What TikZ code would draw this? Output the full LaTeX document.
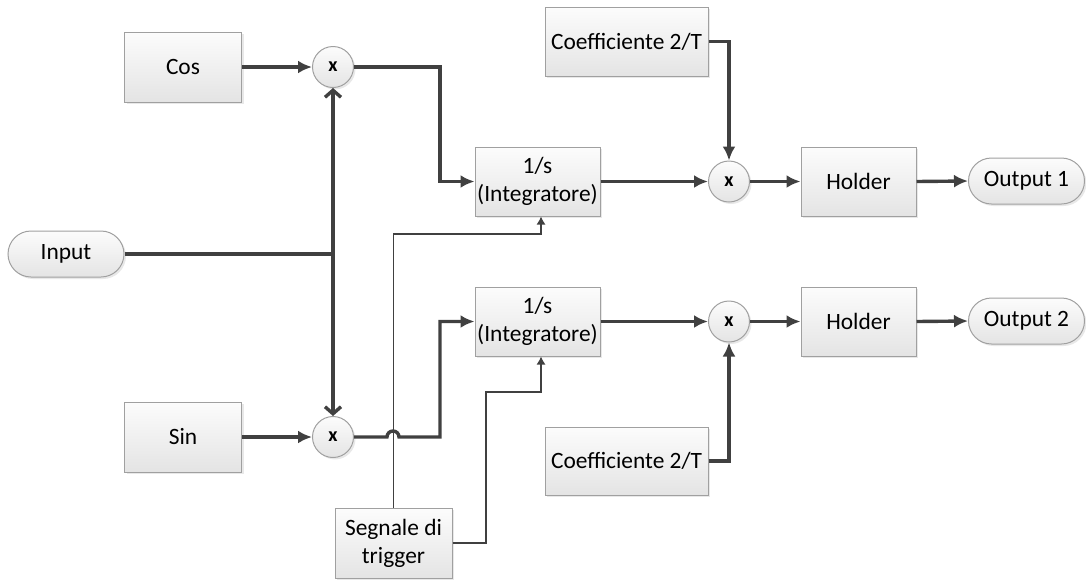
\documentclass[tikz,border=0pt]{standalone}
\usepackage{fontspec}
\setmainfont{Carlito}
\usetikzlibrary{arrows.meta,shadows}

\definecolor{wirec}{HTML}{404040}
\definecolor{boxline}{HTML}{A0A0A0}
\definecolor{boxtop}{HTML}{FCFCFC}
\definecolor{boxbot}{HTML}{E4E4E4}

\tikzset{
  shaded/.style={draw=boxline, line width=0.5pt, top color=boxtop, bottom color=boxbot,
    drop shadow={shadow xshift=1pt, shadow yshift=-1pt, opacity=0.18}},
  block/.style={shaded, rectangle, inner sep=0pt, align=center,
    font=\fontsize{11.7}{14}\selectfont},
  term/.style={block, rounded corners=11.5pt, minimum width=58pt, minimum height=23pt},
  mult/.style={shaded, circle, minimum size=20.5pt, inner sep=0pt,
    font=\fontsize{10}{12}\selectfont\bfseries},
  wire/.style={draw=wirec, line width=1.7pt, -{Latex[length=7pt,width=6.5pt]}},
  plainwire/.style={draw=wirec, line width=1.7pt},
  barbwire/.style={draw=wirec, line width=1.7pt, -{Straight Barb[length=3.5pt,width=8pt]}},
  trigwire/.style={draw=wirec, line width=0.6pt, -{Latex[length=4pt,width=4.5pt]}},
}

\begin{document}
\begin{tikzpicture}[x=0.5pt,y=-0.5pt]
\useasboundingbox (0,0) rectangle (1086,579);

% sources
\node[block, minimum width=58.5pt, minimum height=35pt] (cos) at (183,67) {Cos};
\node[block, minimum width=58.5pt, minimum height=35pt] (sin) at (183,437) {Sin};
\node[term] (input) at (66,254) {Input};

% mixers
\node[mult] (m1) at (333,67) {x};
\node[mult] (m2) at (333,437) {x};

% integrators
\node[block, minimum width=62.5pt, minimum height=34.5pt] (int1) at (537.5,181.5) {1/s\\(Integratore)};
\node[block, minimum width=62.5pt, minimum height=34.5pt] (int2) at (537.5,321.5) {1/s\\(Integratore)};

% trigger
\node[block, minimum width=58.5pt, minimum height=35pt] (trig) at (393.5,543) {Segnale di\\trigger};

% scaling
\node[block, minimum width=81.5pt, minimum height=34.5pt] (coef1) at (626.5,41.5) {Coefficiente 2/T};
\node[block, minimum width=81.5pt, minimum height=34pt] (coef2) at (626.5,461) {Coefficiente 2/T};
\node[mult] (m3) at (729,181.5) {x};
\node[mult] (m4) at (729,321.5) {x};

% hold and outputs
\node[block, minimum width=57.5pt, minimum height=34.5pt] (hold1) at (858.5,181.5) {Holder};
\node[block, minimum width=57.5pt, minimum height=34.5pt] (hold2) at (858.5,321.5) {Holder};
\node[term] (out1) at (1026.5,181) {Output 1};
\node[term] (out2) at (1026.5,321) {Output 2};

% input distribution
\coordinate (j) at (333,254);
\draw[plainwire] (input.east) -- (j);
\draw[barbwire] (j) -- (m1.south);
\draw[barbwire] (j) -- (m2.north);

\draw[wire] (cos.east) -- (m1.west);
\draw[wire] (sin.east) -- (m2.west);

% mixers to integrators
\draw[wire] (m1.east) -- (440,67) |- (int1.west);
\draw[wire] (m2.east) -- (387,437) arc[start angle=180, end angle=0, radius=3pt] -- (440,437) |- (int2.west);

% trigger lines
\coordinate (t1) at (541,234);
\coordinate (t2) at (541,392);
\draw[trigwire] (trig.north) |- (t1) -- (t1 |- int1.south);
\draw[trigwire] (trig.east) -- (486,543) |- (t2) -- (t2 |- int2.south);

% scaling and outputs
\draw[wire] (int1.east) -- (m3.west);
\draw[wire] (int2.east) -- (m4.west);
\draw[wire] (coef1.east) -| (m3.north);
\draw[wire] (coef2.east) -| (m4.south);
\draw[wire] (m3.east) -- (hold1.west);
\draw[wire] (m4.east) -- (hold2.west);
\draw[wire] (hold1.east) -- (out1.west);
\draw[wire] (hold2.east) -- (out2.west);
\end{tikzpicture}
\end{document}
